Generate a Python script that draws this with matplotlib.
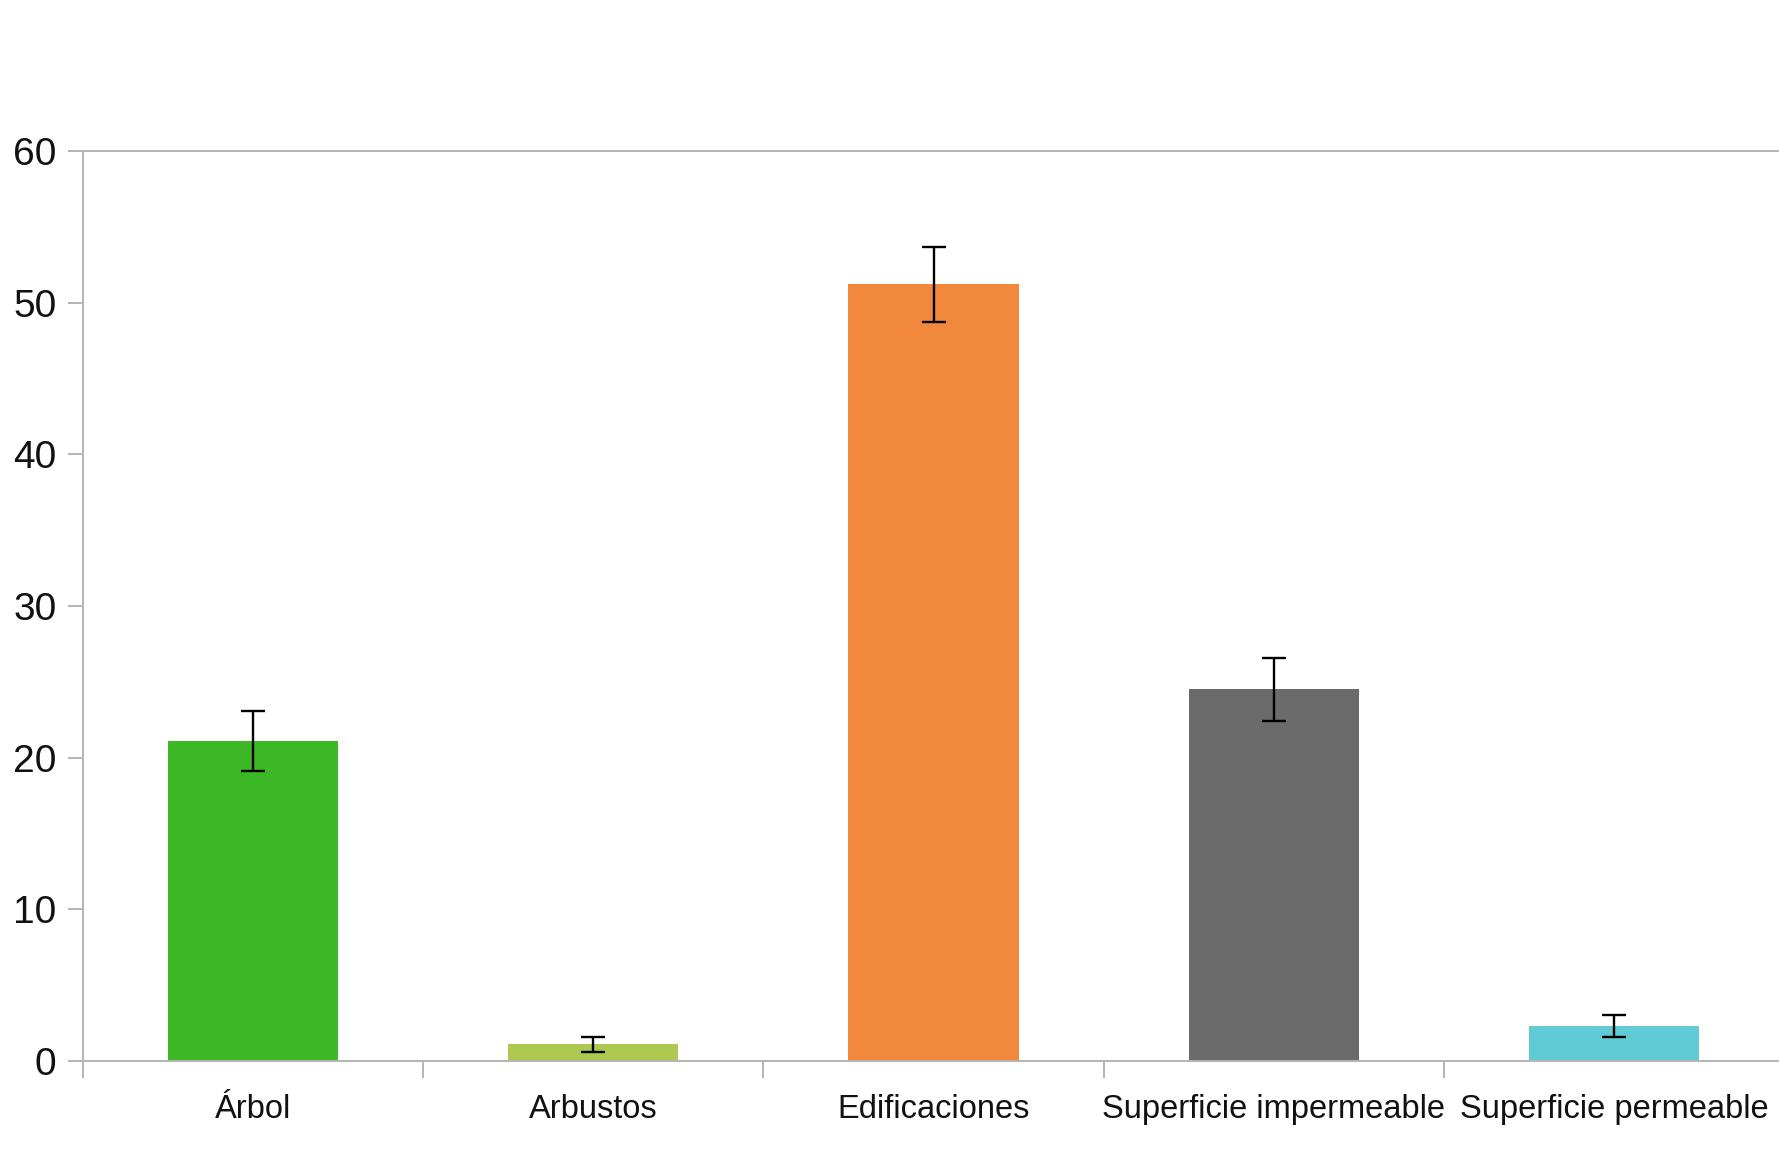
import numpy as np
import matplotlib.pyplot as plt

categories = ['Árbol', 'Arbustos', 'Edificaciones', 'Superficie impermeable', 'Superficie permeable']
values = [21.1, 1.1, 51.2, 24.5, 2.3]
errors = [2.0, 0.5, 2.45, 2.1, 0.72]
colors = ['#3cb826', '#aec952', '#f2883c', '#6b6b6b', '#61cbd5']
y_ticks = [0, 10, 20, 30, 40, 50, 60]

plt.rcParams['font.family'] = ['Liberation Sans', 'DejaVu Sans']

fig = plt.figure(figsize=(17.79, 11.56), dpi=100)
# plot area runs a few pixels past the right edge of the image
ax = fig.add_axes([83 / 1779, 1 - 1061 / 1156, (1784 - 83) / 1779, (1061 - 151) / 1156])

x = np.arange(len(categories))
ax.bar(x, values, width=0.5, color=colors, zorder=2)
ax.errorbar(x, values, yerr=errors, fmt='none', ecolor='black',
            elinewidth=1.7, capsize=8.5, capthick=1.7, zorder=3)

ax.set_xlim(-0.5, len(categories) - 0.5)
ax.set_ylim(0, 60)
ax.set_yticks(y_ticks)

axis_col = '#b3b3b3'
for side in ['left', 'bottom', 'top']:
    ax.spines[side].set_color(axis_col)
    ax.spines[side].set_linewidth(1.4)
ax.spines['right'].set_visible(False)

ax.tick_params(axis='y', direction='out', length=11, width=1.4, color=axis_col,
               labelsize=28, pad=8, labelcolor='#111111')
ax.set_xticks(x)
ax.set_xticklabels(categories)
ax.tick_params(axis='x', which='major', length=0, labelsize=23.5, pad=24, labelcolor='#111111')
ax.set_xticks(np.arange(-0.5, len(categories) - 0.5, 1.0), minor=True)
ax.tick_params(axis='x', which='minor', direction='out', length=12, width=1.4, color=axis_col)

fig.savefig('out.png', dpi=100)
